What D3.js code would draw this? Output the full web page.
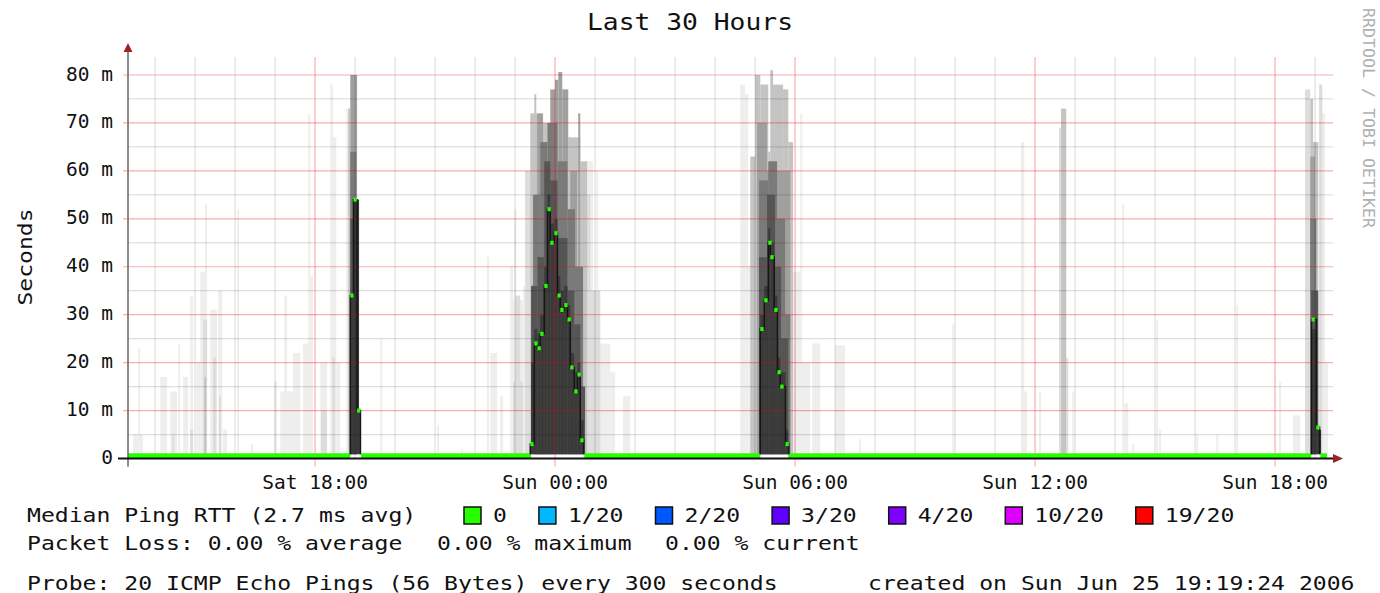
<!DOCTYPE html>
<html>
<head>
<meta charset="utf-8">
<script src="https://cdn.jsdelivr.net/npm/d3@7"></script>
<style>
  html, body { margin: 0; padding: 0; background: #fff; }
  svg { display: block; font-family: "DejaVu Sans Mono", monospace; }
</style>
</head>
<body>
<svg id="chart" width="1380" height="593"></svg>
<script>
// time is in hours counted from Sat 24 Jun 2006 00:00
const startHour = 13 + 19.4 / 60;   // Sat 13:19:24
const endHour = 43 + 19.4 / 60;     // Sun 19:19:24
const stepHours = 5 / 60;           // 300 s probe interval

const yTicks = [0, 10, 20, 30, 40, 50, 60, 70, 80];
const yTickLabels = ["0", "10 m", "20 m", "30 m", "40 m", "50 m", "60 m", "70 m", "80 m"];
const xTickHours = [18, 24, 30, 36, 42];
const xTickLabels = ["Sat 18:00", "Sun 00:00", "Sun 06:00", "Sun 12:00", "Sun 18:00"];

const lossLabels = ["0", "1/20", "2/20", "3/20", "4/20", "10/20", "19/20"];
const lossColors = ["#26ff00", "#00b8ff", "#0059ff", "#5e00ff", "#7e00ff", "#dd00ff", "#ff0000"];

// smoke: [from hour, to hour, top in ms], lightest layer first
const smoke0 = [
  [13.45,13.70,5],[13.58,13.63,23],[14.13,14.30,17],[14.38,14.55,14],[14.58,14.63,24],
  [14.70,14.83,17],[14.88,14.95,34],[15.03,15.13,20],[15.13,15.30,39],[15.25,15.30,53],
  [15.38,15.55,31],[15.58,15.68,35],[15.70,15.80,6],[16.05,16.10,52],[16.40,16.45,3],
  [16.98,17.05,16],[17.13,17.45,14],[17.23,17.30,34],[17.45,17.63,22],[17.70,17.88,24],
  [17.83,17.88,72],[17.88,17.95,38],[18.13,18.30,20],[18.38,18.45,78],[18.45,18.53,67],
  [18.53,18.63,20],[18.78,18.85,73],[19.63,19.68,25],[21.05,21.10,7],[21.65,21.70,2],
  [22.30,22.35,42],[22.38,22.55,22],[22.63,22.70,13],[22.88,22.95,40],[22.98,23.03,52],
  [22.93,23.20,33],[23.20,23.38,36],[24.80,24.95,62],[24.88,25.38,24],[25.03,25.08,60],
  [25.38,25.50,18],[25.70,25.88,13],[28.63,28.75,78],[28.75,28.83,76],[28.83,28.90,40],
  [29.95,30.13,39],[30.13,30.18,72],[30.13,30.38,20],[30.43,30.63,24],[31.00,31.25,23.6],
  [31.60,31.65,4],[33.93,33.98,28],[35.65,35.73,66],[35.65,35.80,14],[36.10,36.15,14],
  [36.93,36.98,14],[38.18,38.23,53],[38.23,38.33,11.5],[38.43,38.48,3],[39.03,39.08,29],
  [39.10,39.15,6],[40.03,40.08,5],[40.53,40.58,5],[41.03,41.08,32],[42.10,42.15,16],
  [42.45,42.63,9],[43.13,43.25,72],[43.25,43.32,20]
];
const smoke1 = [
  [14.43,14.48,5],[14.88,14.95,6],[15.20,15.30,29],[15.45,15.53,21],[15.60,15.65,13],
  [18.15,18.30,10],[18.43,18.50,21],[22.95,23.20,16],[23.00,23.13,34],[23.25,23.43,60],
  [24.63,24.88,55],[24.88,25.13,35],[36.60,36.65,69],[36.78,36.83,21],[42.75,42.88,77],
  [43.10,43.18,78]
];
const smoke2 = [
  [15.23,15.28,17],[18.83,18.88,73],[23.38,23.55,72],[23.48,23.53,76],[23.55,23.88,70],
  [24.33,24.63,67],[24.63,24.80,62],[28.88,29.13,63],[29.00,29.13,80],[29.13,29.33,78],
  [29.33,29.38,64],[29.38,29.45,81],[29.45,29.70,78],[29.70,29.83,77],[29.83,29.95,66],
  [36.65,36.78,73],[42.88,42.95,75],[42.95,43.08,66]
];
const smoke3 = [
  [18.88,19.05,80],[23.55,23.70,72],[23.88,24.00,77],[24.00,24.08,79],[24.08,24.18,80.6],
  [24.18,24.33,77],[24.38,24.55,60],[24.58,24.63,72],[23.50,23.88,55],[29.05,29.30,70],
  [29.30,29.88,60],[42.88,43.00,63]
];
const smoke4 = [
  [18.88,19.03,64],[23.45,23.63,55],[23.63,23.81,66],[23.81,24.06,70],[24.06,24.31,62],
  [24.31,24.50,52],[24.50,24.70,40],[29.10,29.33,58],[29.33,29.55,62],[29.55,29.75,50],
  [29.75,29.88,30],[42.88,43.03,50]
];
const smoke5 = [
  [18.88,19.08,50],[23.40,23.56,36],[23.56,23.73,42],[23.73,23.88,62],[23.88,24.06,58],
  [24.06,24.31,46],[24.31,24.48,35],[24.48,24.63,28],[24.63,24.75,15],[29.10,29.30,42],
  [29.30,29.50,55],[29.50,29.65,40],[29.65,29.83,25],[42.90,43.08,35]
];
const smoke6 = [
  [18.88,18.95,34],[18.95,19.10,54],[19.10,19.15,10],
  [23.40,23.48,20],[23.48,23.56,27],[23.56,23.63,26],[23.63,23.73,30],[23.73,23.81,40],
  [23.81,23.88,55],[23.88,23.98,49],[23.98,24.06,50],[24.06,24.13,38],[24.13,24.23,35],
  [24.23,24.31,36],[24.31,24.38,32],[24.38,24.48,22],[24.48,24.56,18],[24.56,24.63,20],
  [24.63,24.72,8],
  [29.13,29.23,30],[29.23,29.33,36],[29.33,29.38,48],[29.38,29.48,45],[29.48,29.56,34],
  [29.56,29.63,21],[29.63,29.76,18],[29.76,29.83,6],
  [42.90,43.05,27],[43.05,43.15,6]
];
const smokeShades = ["#eeeeee", "#dddddd", "#c4c4c4", "#a0a0a0", "#7a7a7a", "#555555", "#3a3a3a"];
const smokeFloor = 0.9;

// median rtt: quiet stretches [from, to] at medianQuietMs, and the 5-min steps of each peak
const medianQuietMs = 0.55;
const medianQuiet = [[13.32,18.88],[19.15,23.40],[24.73,29.13],[29.83,42.90],[43.13,43.30]];
const peakSat18 = [[18.88,34],[18.96,54],[19.05,10]];
const peakSun00 = [
  [23.38,3],[23.48,24],[23.56,23],[23.63,26],[23.73,36],[23.81,52],[23.88,45],[23.98,47],
  [24.06,34],[24.13,31],[24.23,32],[24.31,29],[24.38,19],[24.48,14],[24.56,17.5],[24.63,3.8]
];
const peakSun06 = [[29.13,27],[29.23,33],[29.33,45],[29.38,42],[29.48,31],[29.56,18],[29.63,15],[29.76,3]];
const peakSun18 = [[42.91,29],[43.03,6.5]];

const svg = d3.select('#chart');
const base = new Date(2006, 5, 24, 0, 0, 0);
const toDate = h => new Date(base.getTime() + h * 3600e3);

const x = d3.scaleTime().domain([toDate(startHour), toDate(endHour)]).range([128, 1328]);
const y = d3.scaleLinear().domain([0, 80]).range([458.5, 75]);
const px = h => x(toDate(h));
const plotTop = 57, plotRight = 1333;

function label(tx, ty, s, size, len, anchor) {
  const t = svg.append('text').attr('x', tx).attr('y', ty)
    .attr('font-size', size).attr('fill', '#111').text(s);
  if (anchor) t.attr('text-anchor', anchor);
  if (len) t.attr('textLength', len).attr('lengthAdjust', 'spacingAndGlyphs');
  return t;
}

// smoke
[smoke0, smoke1, smoke2, smoke3, smoke4, smoke5, smoke6].forEach((layer, i) => {
  svg.append('g').attr('fill', smokeShades[i])
    .selectAll('rect').data(layer).join('rect')
    .attr('x', d => px(d[0]))
    .attr('width', d => px(d[1]) - px(d[0]))
    .attr('y', d => y(d[2]))
    .attr('height', d => y(smokeFloor) - y(d[2]));
});

// grid (drawn over the data, like rrdtool)
const grid = svg.append('g').attr('stroke-width', 1.2);
const minorY = d3.range(5, 80, 10);
grid.selectAll('.my').data(minorY).join('line')
  .attr('x1', 128).attr('x2', plotRight).attr('y1', d => y(d)).attr('y2', d => y(d))
  .attr('stroke', 'rgba(0,0,0,0.13)');
const minorX = d3.range(14, 44).filter(h => h % 6 !== 0);
grid.selectAll('.mx').data(minorX).join('line')
  .attr('x1', d => px(d)).attr('x2', d => px(d)).attr('y1', plotTop).attr('y2', y(0))
  .attr('stroke', 'rgba(0,0,0,0.13)');
grid.selectAll('.My').data(yTicks.slice(1)).join('line')
  .attr('x1', 123).attr('x2', plotRight).attr('y1', d => y(d)).attr('y2', d => y(d))
  .attr('stroke', 'rgba(235,0,0,0.32)');
grid.selectAll('.Mx').data(xTickHours).join('line')
  .attr('x1', d => px(d)).attr('x2', d => px(d)).attr('y1', plotTop).attr('y2', y(0) + 8)
  .attr('stroke', 'rgba(235,0,0,0.32)');

// median
const green = lossColors[0];
svg.append('g').attr('fill', green)
  .selectAll('rect').data(medianQuiet).join('rect')
  .attr('x', d => px(d[0])).attr('width', d => px(d[1]) - px(d[0]))
  .attr('y', y(medianQuietMs) - 2.6).attr('height', 5.2);

const stepLine = d3.line().x(d => px(d[0])).y(d => y(d[1])).curve(d3.curveStepAfter);
[peakSat18, peakSun00, peakSun06, peakSun18].forEach(peak => {
  const last = peak[peak.length - 1];
  const pts = [[peak[0][0], smokeFloor], ...peak,
    [last[0] + stepHours, last[1]], [last[0] + stepHours, smokeFloor]];
  svg.append('path').attr('d', stepLine(pts))
    .attr('fill', 'none').attr('stroke', '#151515').attr('stroke-width', 1.5);
  svg.append('g').attr('fill', green)
    .selectAll('rect').data(peak).join('rect')
    .attr('x', d => px(d[0])).attr('width', px(stepHours + startHour) - px(startHour))
    .attr('y', d => y(d[1]) - 2).attr('height', 4);
});

// axes
svg.append('line').attr('x1', 128).attr('x2', 128).attr('y1', 52).attr('y2', y(0) + 8)
  .attr('stroke', '#666').attr('stroke-width', 1.5);
svg.append('line').attr('x1', 118).attr('x2', 1334).attr('y1', y(0)).attr('y2', y(0))
  .attr('stroke', '#111').attr('stroke-width', 1.8);
svg.append('path').attr('d', 'M123.5,52L132.5,52L128,43Z').attr('fill', '#9b2323');
svg.append('path').attr('d', `M1333,${y(0) - 4.5}L1333,${y(0) + 4.5}L1343,${y(0)}Z`).attr('fill', '#9b2323');

yTicks.forEach((v, i) => label(113, y(v) + 5.5, yTickLabels[i], 19.5, null, 'end'));
xTickHours.forEach((h, i) => label(px(h), 489, xTickLabels[i], 19.5, null, 'middle'));

// titles
label(690, 30, 'Last 30 Hours', 23, 206, 'middle');
svg.append('text').attr('transform', 'translate(32,257) rotate(-90)')
  .attr('text-anchor', 'middle').attr('font-size', 19.5).attr('fill', '#111')
  .attr('textLength', 97).attr('lengthAdjust', 'spacingAndGlyphs').text('Seconds');
svg.append('text').attr('transform', 'translate(1363,8) rotate(90)')
  .attr('font-size', 16).attr('fill', '#b0b0b0')
  .attr('textLength', 220).attr('lengthAdjust', 'spacingAndGlyphs').text('RRDTOOL / TOBI OETIKER');

// legend
const charW = 13.9;
const legendLine = 'Median Ping RTT (2.7 ms avg)';
label(27, 522, legendLine, 19.5, legendLine.length * charW);
let lx = 464;
lossLabels.forEach((s, i) => {
  svg.append('rect').attr('x', lx).attr('y', 507).attr('width', 17).attr('height', 17)
    .attr('fill', lossColors[i]).attr('stroke', '#111').attr('stroke-width', 1.5);
  label(lx + 29, 522, s, 19.5, s.length * charW);
  lx += 17 + 12 + s.length * charW + 32;
});

const lossParts = [[27, 'Packet Loss: 0.00 % average'], [437, '0.00 % maximum'], [665, '0.00 % current']];
lossParts.forEach(([tx, s]) => label(tx, 550, s, 19.5, s.length * charW));

const probe = 'Probe: 20 ICMP Echo Pings (56 Bytes) every 300 seconds';
label(27, 589.5, probe, 19.5, probe.length * charW);
const created = 'created on Sun Jun 25 19:19:24 2006';
label(868, 589.5, created, 19.5, created.length * charW);
</script>
</body>
</html>
